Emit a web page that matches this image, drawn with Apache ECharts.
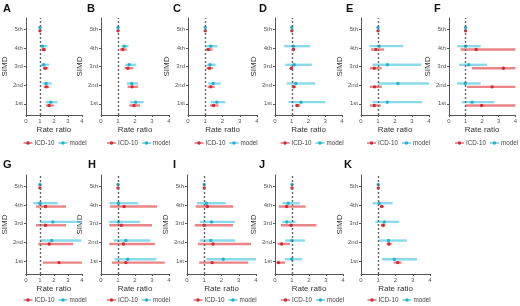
<!DOCTYPE html>
<html><head><meta charset="utf-8">
<script src="https://cdn.jsdelivr.net/npm/echarts@6/dist/echarts.min.js"></script>
<style>html,body{margin:0;padding:0;background:#fff}#c{width:520px;height:306px}</style>
</head><body><div id="c"></div>
<script>
// SIMD categories (index 1..5 on the y axis)
const simd = ['1st', '2nd', '3rd', '4th', '5th'];
const xTicks = [0, 1, 2, 3, 4];
const panelLabels = ['A','B','C','D','E','F','G','H','I','J','K'];
// each row: [estimate, lower, upper], order 1st..5th
const A_icd   = [[1.66,1.44,1.99],[1.46,1.27,1.66],[1.38,1.22,1.60],[1.27,1.11,1.44],[1,1,1]];
const A_model = [[1.77,1.40,2.25],[1.44,1.18,1.84],[1.27,1.07,1.66],[1.18,1.05,1.55],[1,1,1]];
const B_icd   = [[1.94,1.66,2.30],[1.83,1.56,2.19],[1.58,1.39,1.90],[1.28,1.10,1.52],[1,1,1]];
const B_model = [[2.04,1.71,2.51],[1.81,1.52,2.19],[1.66,1.43,2.06],[1.37,1.20,1.62],[1,1,1]];
const C_icd   = [[1.48,1.27,1.77],[1.32,1.13,1.55],[1.24,1.07,1.44],[1.18,1.05,1.42],[1,1,1]];
const C_model = [[1.67,1.32,2.16],[1.46,1.17,1.90],[1.28,1.09,1.61],[1.32,1.07,1.71],[1,1,1]];
const D_icd   = [[1.33,1.20,1.50],[1.12,1.00,1.25],[0.97,0.90,1.08],[1.10,1.00,1.20],[1,1,1]];
const D_model = [[1.55,0.80,3.00],[1.25,0.70,2.40],[1.15,0.60,2.20],[1.10,0.55,2.10],[1,1,1]];
const E_icd   = [[0.78,0.52,1.17],[0.80,0.52,1.22],[0.78,0.52,1.22],[0.87,0.58,1.36],[1,1,1]];
const E_model = [[1.55,0.68,3.60],[2.17,1.03,4.00],[1.55,0.68,3.55],[1.07,0.49,2.49],[1,1,1]];
const F_icd   = [[1.97,1.00,4.00],[2.60,1.09,4.00],[3.28,1.39,4.00],[1.64,0.70,4.00],[1,1,1]];
const F_model = [[1.39,0.78,2.73],[0.98,0.49,1.91],[1.19,0.60,2.30],[1.00,0.50,1.91],[1,1,1]];
const G_icd   = [[2.36,1.22,4.00],[1.66,0.89,3.37],[1.40,0.72,2.86],[1.40,0.72,2.86],[1,1,1]];
const G_model = [null,[1.84,1.00,3.96],[1.92,1.00,4.00],[1.00,0.52,2.27],[1,1,1]];
const H_icd   = [[1.46,0.64,3.75],[1.32,0.49,3.17],[1.20,0.49,3.00],[1.36,0.54,3.30],[1,1,1]];
const H_model = [[1.57,0.80,3.26],[1.46,0.74,2.90],[1.03,0.49,2.29],[1.03,0.49,2.19],[1,1,1]];
const I_icd   = [[1.46,0.70,3.55],[1.51,0.64,3.71],[1.00,0.45,2.68],[1.18,0.50,2.68],[1,1,1]];
const I_model = [[2.10,1.13,4.00],[1.38,0.74,2.78],[1.42,0.74,2.78],[1.13,0.58,2.25],[1,1,1]];
const J_icd   = [[0.20,0.10,0.59],[0.39,0.16,0.88],[0.94,0.35,2.44],[0.68,0.23,1.80],[1,1,1]];
const J_model = [[0.98,0.59,1.60],[1.00,0.59,1.76],[0.70,0.43,1.21],[0.78,0.43,1.46],[1,1,1]];
const K_icd   = [[2.13,1.90,2.34],[1.62,1.49,1.78],[1.28,1.16,1.41],[1.20,1.10,1.32],[1,1,1]];
const K_model = [[1.93,1.22,3.25],[1.60,1.02,2.67],[1.35,0.83,2.22],[1.06,0.68,1.84],[1,1,1]];

const icdSets   = [A_icd,B_icd,C_icd,D_icd,E_icd,F_icd,G_icd,H_icd,I_icd,J_icd,K_icd];
const modelSets = [A_model,B_model,C_model,D_model,E_model,F_model,G_model,H_model,I_model,J_model,K_model];

// layout
const rects = [
  [21,82,18,97],[101,169,18,97],[188,257,18,97],[275,342,18,97],[361,429,18,97],[449,517,18,97],
  [21,82,175,99],[101,169,175,99],[187,256,175,99],[275,343,175,99],[361,430,175,99]
];
const labelPos = [[3,3],[87,3],[173,3],[259,3],[346,3],[434,3],[3,159],[88,159],[173,159],[259,159],[344,159]];

const RED = '#d42a35', RED_BAR = 'rgba(228,92,92,0.75)';
const CYAN = '#22b3cf', CYAN_BAR = 'rgba(100,205,230,0.75)';
const OFF = 0.09;

function renderer(barColor, ptColor){
  return function(params, api){
    const y = api.value(1);
    const p = api.coord([api.value(0), y]);
    const lo = api.coord([api.value(2), y]);
    const hi = api.coord([api.value(3), y]);
    return {type:'group', children:[
      {type:'line', shape:{x1:lo[0],y1:lo[1],x2:hi[0],y2:hi[1]}, style:{stroke:barColor,lineWidth:2.4}},
      {type:'circle', shape:{cx:p[0],cy:p[1],r:1.7}, style:{fill:ptColor}}
    ]};
  };
}

const grids=[], xAxes=[], yAxes=[], series=[], legends=[], graphics=[];
rects.forEach((r,i)=>{
  const [x0,x1,top,h] = r;
  const row2 = i>=6;
  grids.push({left:x0, width:x1-x0, top:top, height:h});
  xAxes.push({gridIndex:i, type:'value', min:0, max:4, interval:1,
    name:'Rate ratio', nameLocation:'middle', nameGap:11,
    nameTextStyle:{fontSize:8, color:'#333', fontFamily:'Liberation Sans'},
    axisLine:{lineStyle:{color:'#555', width:1}}, axisTick:{length:2, lineStyle:{color:'#555'}},
    axisLabel:{fontSize:6, color:'#555', margin:3, fontFamily:'Liberation Sans', formatter:v=>xTicks.includes(v)?String(v):''},
    splitLine:{show:false}});
  yAxes.push({gridIndex:i, type:'value', min: row2?0.3:0.4, max:5.6,
    name:'SIMD', nameLocation:'middle', nameGap:14,
    nameTextStyle:{fontSize:8, color:'#333', fontFamily:'Liberation Sans'},
    axisLine:{show:true, lineStyle:{color:'#555', width:1}},
    axisTick:{show:true, length:2, customValues:[1,2,3,4,5], lineStyle:{color:'#555'}},
    axisLabel:{fontSize:6, color:'#555', margin:3, fontFamily:'Liberation Sans', customValues:[1,2,3,4,5], formatter:v=>simd[Math.round(v)-1]||''},
    splitLine:{show:false}});
  const icd = icdSets[i].map((d,k)=>d?[d[0], k+1-OFF, d[1], d[2]]:null).filter(Boolean);
  const mod = modelSets[i].map((d,k)=>d?[d[0], k+1+OFF, d[1], d[2]]:null).filter(Boolean);
  series.push({type:'custom', name:'ICD-10', xAxisIndex:i, yAxisIndex:i, clip:true,
    itemStyle:{color:RED}, encode:{x:[0,2,3], y:1}, data:icd, renderItem:renderer(RED_BAR, RED), z:3,
    markLine:{silent:true, symbol:'none', label:{show:false}, animation:false,
      lineStyle:{color:'#666', type:[2,2], width:1.4}, data:[{xAxis:1}]}});
  series.push({type:'custom', name:'model', xAxisIndex:i, yAxisIndex:i, clip:true,
    itemStyle:{color:CYAN}, encode:{x:[0,2,3], y:1}, data:mod, renderItem:renderer(CYAN_BAR, CYAN), z:4});
  const cx = (x0+x1)/2 + 2;
  legends.push({data:['ICD-10','model'], left:cx-30, top: row2?297:140, width:100, itemWidth:9, itemHeight:5, itemGap:4,
    icon:'path://M0,3.3H12V4.7H0Z M6,1.6A2.4,2.4 0 1 1 5.99,1.6Z',
    textStyle:{fontSize:6.3, color:'#444', fontFamily:'Liberation Sans', padding:[0,0,0,-3]}, padding:0, selectedMode:false});
  graphics.push({type:'text', left:labelPos[i][0], top:labelPos[i][1],
    style:{text:panelLabels[i], fontSize:11, fontWeight:'bold', fill:'#111', fontFamily:'Liberation Sans'}});
});

const chart = echarts.init(document.getElementById('c'), null, {renderer:'canvas'});
chart.setOption({animation:false, grid:grids, xAxis:xAxes, yAxis:yAxes, series:series, legend:legends, graphic:graphics});
</script></body></html>
